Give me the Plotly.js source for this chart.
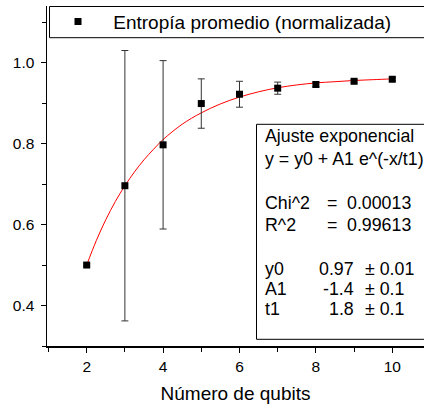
<!DOCTYPE html>
<html>
<head>
<meta charset="utf-8">
<script src="https://cdn.plot.ly/plotly-3.0.1.min.js"></script>
<style>html,body{margin:0;padding:0;background:#fff;}#chart{width:424px;height:407px;}</style>
</head>
<body>
<div id="chart"></div>
<script>
// Data
var qubits = [2, 3, 4, 5, 6, 7, 8, 9, 10];
var entropy = [0.500, 0.696, 0.797, 0.899, 0.922, 0.937, 0.946, 0.954, 0.959];
var entropyErr = [0.003, 0.334, 0.208, 0.061, 0.032, 0.015, 0.006, 0.004, 0.004];
var fitX = [2, 2.25, 2.5, 2.75, 3, 3.25, 3.5, 3.75, 4, 4.5, 5, 5.5, 6, 6.5, 7, 7.5, 8, 8.5, 9, 9.5, 10];
var fitY = [0.500, 0.560, 0.612, 0.657, 0.696, 0.730, 0.760, 0.786, 0.810, 0.848, 0.876, 0.898, 0.915, 0.928, 0.938, 0.945, 0.950, 0.953, 0.956, 0.958, 0.960];
var xTicks = [2, 4, 6, 8, 10];
var yTicks = [0.4, 0.6, 0.8, 1.0];
var yTickText = ['0.4', '0.6', '0.8', '1.0'];
var legendName = 'Entropía promedio (normalizada)';
var xTitle = 'Número de qubits';
var boxLines = [
  ['Ajuste exponencial'],
  ['y = y0 + A1 e^(-x/t1)'],
  ['Chi^2', '=', '0.00013'],
  ['R^2', '=', '0.99613'],
  ['y0', '0.97', '± 0.01'],
  ['A1', '-1.4', '± 0.1'],
  ['t1', '1.8', '± 0.1']
];

var FONT = 'Liberation Sans, Arial, Helvetica, sans-serif';
var L = 47, T = 6, W = 424, H = 407, B = 61;
var PW = W - L, PH = H - T - B;
function px(x) { return (x - L) / PW; }
function py(y) { return (H - B - y) / PH; }

var traces = [
  {
    x: fitX, y: fitY, mode: 'lines', type: 'scatter',
    line: {color: '#ff0000', width: 1, shape: 'spline'},
    showlegend: false, hoverinfo: 'skip'
  },
  {
    x: qubits, y: entropy, mode: 'markers', type: 'scatter',
    name: '\u00a0' + legendName,
    marker: {symbol: 'square', size: 7, color: '#000'},
    error_y: {type: 'data', array: entropyErr, visible: true, color: '#333', thickness: 1, width: 3.5}
  }
];

var rowY = [136, 159.5, 203.3, 224.7, 269, 289, 308.5];
var BOXFS = 17.8;
var annotations = [];
function addText(t, x, y, anchor) {
  annotations.push({
    text: t, xref: 'paper', yref: 'paper', x: px(x), y: py(y),
    xanchor: anchor || 'left', yanchor: 'middle', showarrow: false,
    font: {family: FONT, size: BOXFS, color: '#000'}
  });
}
addText(boxLines[0][0], 263, rowY[0]);
addText(boxLines[1][0], 263, rowY[1]);
for (var i = 2; i <= 3; i++) {
  addText(boxLines[i][0], 263, rowY[i]);
  addText(boxLines[i][1], 324.5, rowY[i]);
  addText(boxLines[i][2], 345, rowY[i]);
}
for (var j = 4; j <= 6; j++) {
  addText(boxLines[j][0], 263, rowY[j]);
  addText(boxLines[j][1], 356, rowY[j], 'right');
  addText(boxLines[j][2], 363, rowY[j]);
}

var layout = {
  width: W, height: H,
  margin: {l: L, r: 0, t: T, b: B, pad: 0},
  paper_bgcolor: '#fff', plot_bgcolor: '#fff',
  font: {family: FONT, color: '#000'},
  showlegend: true,
  legend: {
    x: px(48), y: py(21.7), xanchor: 'left', yanchor: 'middle',
    bgcolor: 'rgba(0,0,0,0)', borderwidth: 0,
    font: {family: FONT, size: 19, color: '#000'},
    itemwidth: 50
  },
  xaxis: {
    range: [0.961, 10.83], showgrid: false, zeroline: false,
    showline: true, linecolor: '#000', linewidth: 1.5,
    ticks: 'outside', ticklen: 5, tickwidth: 1, tickcolor: '#000',
    tickvals: xTicks, ticktext: xTicks.map(String),
    tickfont: {family: FONT, size: 15.5, color: '#000'},
    ticklabelstandoff: 1,
    minor: {dtick: 1, tick0: 1, ticks: 'outside', ticklen: 4, tickcolor: '#000', tickwidth: 1},
    title: {text: xTitle, font: {family: FONT, size: 19, color: '#000'}, standoff: 12}
  },
  yaxis: {
    range: [0.3, 1.14], showgrid: false, zeroline: false,
    showline: true, linecolor: '#000', linewidth: 1.5,
    ticks: 'outside', ticklen: 5, tickwidth: 1, tickcolor: '#000',
    tickvals: yTicks, ticktext: yTickText,
    tickfont: {family: FONT, size: 15.5, color: '#000'},
    ticklabelstandoff: 3,
    minor: {dtick: 0.1, tick0: 0.3, ticks: 'outside', ticklen: 4, tickcolor: '#000', tickwidth: 1}
  },
  shapes: [
    {type: 'rect', xref: 'paper', yref: 'paper', x0: px(49.5), x1: 1.02, y0: py(37.7), y1: py(6.5),
     line: {color: '#000', width: 1}, fillcolor: 'rgba(0,0,0,0)', layer: 'above'},
    {type: 'rect', xref: 'paper', yref: 'paper', x0: px(256.5), x1: 1.02, y0: py(339.3), y1: py(124.3),
     line: {color: '#000', width: 1}, fillcolor: '#fff', layer: 'above'}
  ],
  annotations: annotations
};

Plotly.newPlot('chart', traces, layout, {staticPlot: true, displayModeBar: false});
</script>
</body>
</html>
